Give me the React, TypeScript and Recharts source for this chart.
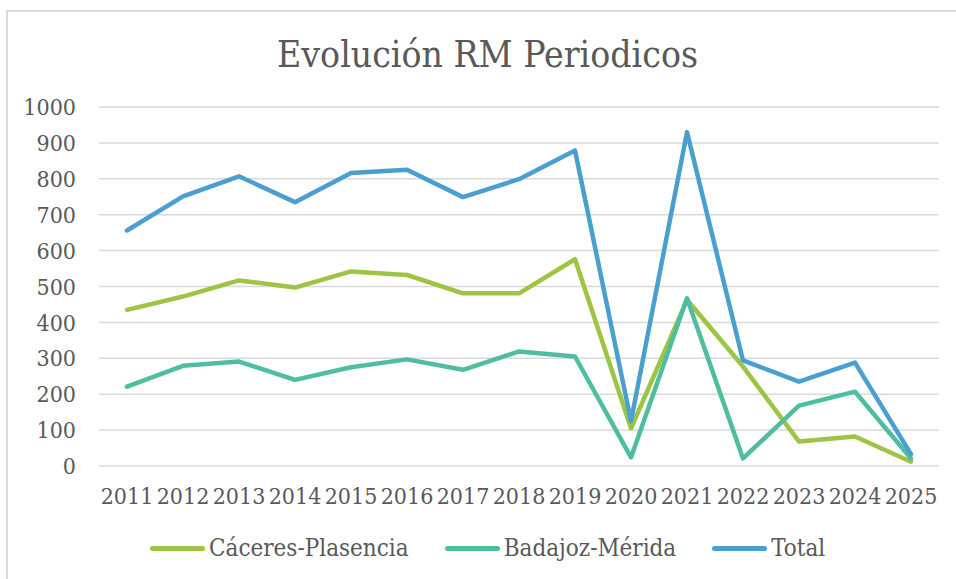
import { LineChart, Line, XAxis, YAxis, CartesianGrid, Legend } from "recharts";

const years = ["2011", "2012", "2013", "2014", "2015", "2016", "2017", "2018", "2019", "2020", "2021", "2022", "2023", "2024", "2025"];
const caceres = [435, 472, 517, 497, 542, 532, 481, 481, 576, 105, 463, 277, 68, 82, 12];
const badajoz = [221, 279, 291, 240, 275, 297, 268, 319, 305, 24, 467, 21, 168, 207, 21];
const total = [656, 751, 807, 735, 816, 825, 749, 799, 879, 125, 930, 294, 235, 288, 33];
const yTicks = [0, 100, 200, 300, 400, 500, 600, 700, 800, 900, 1000];
const seriesNames = ["Cáceres-Plasencia", "Badajoz-Mérida", "Total"];

const data = years.map((year, i) => ({
  year,
  caceres: caceres[i],
  badajoz: badajoz[i],
  total: total[i],
}));

const FONT = "'DejaVu Serif Condensed', 'DejaVu Serif', serif";
const TEXT = "#595959";

function LegendContent({ payload }: any) {
  const items = [...(payload || [])].sort(
    (a: any, b: any) => seriesNames.indexOf(a.value) - seriesNames.indexOf(b.value)
  );
  return (
    <div style={{ display: "flex", alignItems: "center", height: 30, fontFamily: FONT, fontStretch: "condensed", fontSize: 24, color: TEXT }}>
      {items.map((item: any) => (
        <div key={item.value} style={{ display: "flex", alignItems: "center", marginRight: 36 }}>
          <div style={{ width: 55, height: 5, borderRadius: 3, background: item.color, marginRight: 4 }} />
          <span>{item.value}</span>
        </div>
      ))}
    </div>
  );
}

export default function App() {
  return (
    <div style={{ position: "absolute", top: 0, left: 0, width: 956, height: 579, overflow: "hidden", background: "#fff" }}>
      <div style={{ position: "absolute", left: 6, top: 10, width: 1000, height: 600, borderTop: "2px solid #D9D9D9", borderLeft: "2px solid #D9D9D9" }} />
      <div style={{ position: "absolute", left: 0, top: 36, width: 975, textAlign: "center", fontFamily: FONT, fontStretch: "condensed", fontSize: 37, lineHeight: "37px", color: TEXT }}>
        Evolución RM Periodicos
      </div>
      <div style={{ position: "absolute", left: 0, top: 0 }}>
        <LineChart width={956} height={579} data={data} margin={{ top: 107, right: 17, left: 0, bottom: 16 }}>
          <CartesianGrid vertical={false} stroke="#D9D9D9" strokeWidth={1.5} />
          <XAxis
            dataKey="year"
            axisLine={false}
            tickLine={false}
            tickSize={0}
            tickMargin={22}
            height={67}
            interval={0}
            padding={{ left: 28, right: 28 }}
            tick={{ fontSize: 23, fill: TEXT, fontFamily: FONT, fontStretch: "condensed" }}
          />
          <YAxis
            domain={[0, 1000]}
            ticks={yTicks}
            width={99}
            axisLine={false}
            tickLine={false}
            tickSize={0}
            tickMargin={23}
            tick={{ fontSize: 23, fill: TEXT, fontFamily: FONT, fontStretch: "condensed" }}
          />
          <Legend
            verticalAlign="bottom"
            content={<LegendContent />}
            wrapperStyle={{ left: 150, width: 790 }}
          />
          <Line dataKey="caceres" name="Cáceres-Plasencia" stroke="#9DC544" strokeWidth={4.5} dot={false} strokeLinecap="round" strokeLinejoin="round" isAnimationActive={false} />
          <Line dataKey="badajoz" name="Badajoz-Mérida" stroke="#4FBEA0" strokeWidth={4.5} dot={false} strokeLinecap="round" strokeLinejoin="round" isAnimationActive={false} />
          <Line dataKey="total" name="Total" stroke="#4A9FCF" strokeWidth={4.5} dot={false} strokeLinecap="round" strokeLinejoin="round" isAnimationActive={false} />
        </LineChart>
      </div>
    </div>
  );
}
